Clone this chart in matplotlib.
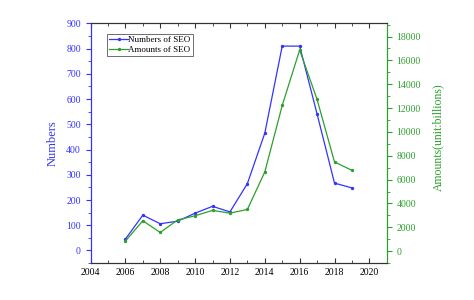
import numpy as np
import matplotlib
matplotlib.use('Agg')
import matplotlib.pyplot as plt
from matplotlib.ticker import MultipleLocator

plt.rcParams['font.family'] = ['Liberation Serif', 'DejaVu Serif']

years = [2006, 2007, 2008, 2009, 2010, 2011, 2012, 2013, 2014, 2015, 2016, 2017, 2018, 2019]
numbers = [45, 140, 106, 116, 148, 175, 153, 265, 465, 810, 810, 541, 267, 248]
amounts = [850, 2550, 1570, 2620, 2970, 3420, 3190, 3500, 6640, 12220, 16870, 12720, 7480, 6780]

blue = '#3333ff'
green = '#2ca02c'

fig = plt.figure(figsize=(4.74, 3.0), dpi=100)
ax = fig.add_axes([0.191, 0.123, 0.625, 0.799])
ax2 = ax.twinx()

l1, = ax.plot(years, numbers, color=blue, linewidth=0.9, marker='o', markersize=1.4, label='Numbers of SEO')
l2, = ax2.plot(years, amounts, color=green, linewidth=0.9, marker='o', markersize=1.4, label='Amounts of SEO')

ax.set_xlim(2004, 2021)
ax.set_ylim(-50, 900)
ax2.set_ylim(-1000, 19100)

ax.xaxis.set_major_locator(MultipleLocator(2))
ax.xaxis.set_minor_locator(MultipleLocator(1))
ax.yaxis.set_major_locator(MultipleLocator(100))
ax.yaxis.set_minor_locator(MultipleLocator(50))
ax2.yaxis.set_major_locator(MultipleLocator(2000))
ax2.yaxis.set_minor_locator(MultipleLocator(1000))

ax.tick_params(axis='x', which='both', direction='in', top=True, labelsize=7, color='#333333')
ax.tick_params(axis='x', which='major', length=3.5)
ax.tick_params(axis='x', which='minor', length=2)
ax.tick_params(axis='y', which='both', direction='out', colors=blue, labelsize=7)
ax.tick_params(axis='y', which='major', length=3.5)
ax.tick_params(axis='y', which='minor', length=2)
ax2.tick_params(axis='y', which='both', direction='out', colors=green, labelsize=7)
ax2.tick_params(axis='y', which='major', length=3.5)
ax2.tick_params(axis='y', which='minor', length=2)

for a in (ax, ax2):
    a.spines['left'].set_color(blue)
    a.spines['right'].set_color(green)
    a.spines['top'].set_color('#333333')
    a.spines['bottom'].set_color('#333333')

ax.set_ylabel('Numbers', color=blue, fontsize=9)
ax.yaxis.set_label_coords(-0.106, 0.5)
ax2.set_ylabel('Amounts(unit:billions)', color=green, fontsize=8.5)
ax2.yaxis.set_label_coords(1.152, 0.524)

leg = ax.legend([l1, l2], ['Numbers of SEO', 'Amounts of SEO'], loc='upper left',
                bbox_to_anchor=(0.055, 0.955), borderaxespad=0, fontsize=6.5, fancybox=False,
                edgecolor='#555555', framealpha=1, borderpad=0.2, handlelength=2.2,
                handletextpad=0.0, labelspacing=0.15)
leg.get_frame().set_linewidth(0.6)

fig.savefig('out.png', dpi=100)
